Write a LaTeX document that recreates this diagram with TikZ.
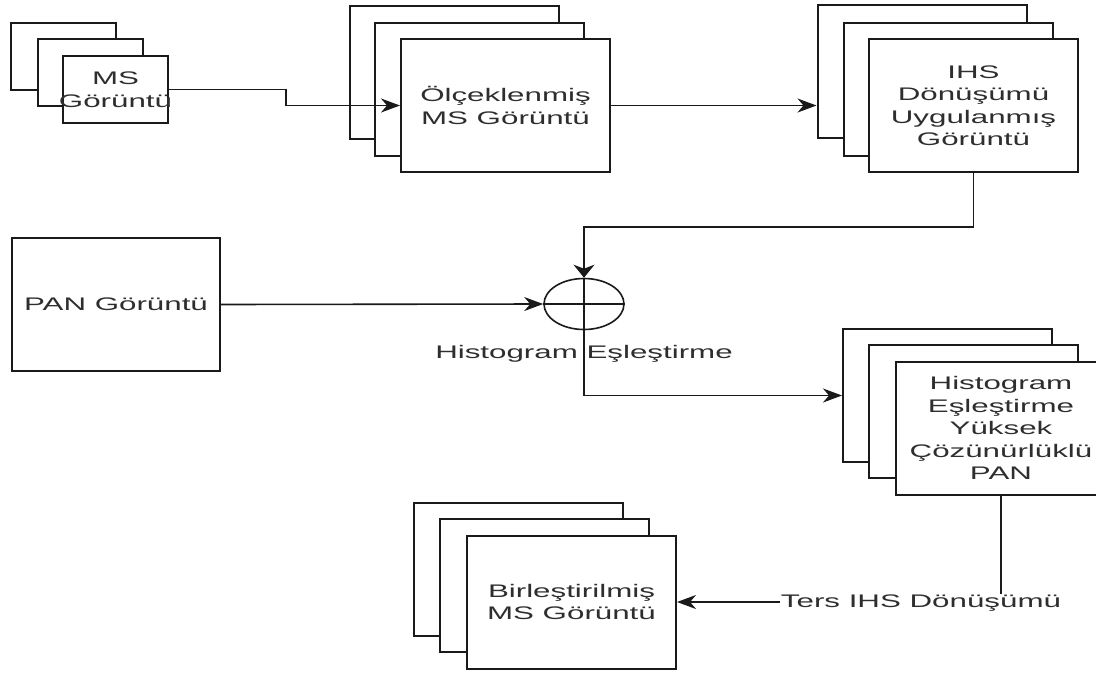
\documentclass[tikz,border=0pt]{standalone}
\usepackage{fontspec}
\setmainfont{Liberation Sans}[FakeStretch=1.72]
\usetikzlibrary{arrows.meta,shapes.geometric}
\definecolor{ink}{HTML}{1A1A1A}
\definecolor{txtc}{HTML}{2E2E2E}
\tikzset{
  card/.style={draw=ink, line width=2pt, fill=white, rectangle, inner sep=0pt},
  small/.style={card, minimum width=105pt, minimum height=67pt},
  big/.style={card, minimum width=209pt, minimum height=133pt},
  txt/.style={text=txtc, align=center, inner sep=0pt,
    font=\fontsize{18.2pt}{22.5pt}\selectfont},
  conn/.style={draw=ink, line width=1.6pt},
  harrow/.style={conn, -{Stealth[length=19pt,width=14pt,inset=6pt]}},
  varrow/.style={conn, -{Stealth[length=13pt,width=21pt,inset=4pt]}},
}
\begin{document}
\begin{tikzpicture}[x=1pt,y=-1pt]
\clip (0,0) rectangle (1096,675);
\fill[white] (0,0) rectangle (1096,675);

% MS image stack
\node[small] (msA) at (63.5,56) {};
\node[small] (msB) at (90,72.5) {};
\node[small] (ms)  at (115.5,89.5) {};
\node[txt] (msT) at (ms) {MS\\Görüntü};

% scaled MS image stack
\node[big] (olcA) at (454,72) {};
\node[big] (olcB) at (479.5,89) {};
\node[big] (olc)  at (505.5,105.5) {};
\node[txt] (olcT) at (olc) {Ölçeklenmiş\\MS Görüntü};

% IHS transformed stack
\node[big] (ihsA) at (922,71.5) {};
\node[big] (ihsB) at (948,89) {};
\node[big] (ihs)  at (973.5,105.5) {};
\node[txt] (ihsT) at (ihs) {IHS\\Dönüşümü\\Uygulanmış\\Görüntü};

% PAN image
\node[card, minimum width=208pt, minimum height=133pt] (pan) at (116,304.5) {};
\node[txt] (panT) at (pan) {PAN Görüntü};

% histogram matching junction
\node[draw=ink, line width=1.6pt, ellipse, minimum width=80pt, minimum height=51pt, inner sep=0pt] (sum) at (584,304) {};
\draw[conn] (sum.west) -- (sum.east);
\draw[conn] (sum.north) -- (sum.south);

% histogram matched PAN stack
\node[big] (hpA) at (947.5,395.5) {};
\node[big] (hpB) at (973.5,411.5) {};
\node[big, minimum width=210pt] (hp) at (1001,428) {};
\node[txt] (hpT) at (hp) {Histogram\\Eşleştirme\\Yüksek\\Çözünürlüklü\\PAN};

% fused MS stack
\node[big] (birA) at (518.5,569) {};
\node[big] (birB) at (544,585.5) {};
\node[big] (bir)  at (571.5,602) {};
\node[txt] (birT) at (bir) {Birleştirilmiş\\MS Görüntü};

% connectors
\draw[harrow] (ms.east) -- ++(117,0) |- (olc.west);
\draw[harrow] (olc.east) -- (olc.east -| ihsA.west);
\draw[varrow] (ihs.south) -- ++(0,54) -| (sum.north);
\draw[harrow] (pan.east) -- (sum.west);
\draw[harrow] (sum.south) |- (hpA.west);
\node[txt] (hmL) at (584,354) {Histogram Eşleştirme};
\draw[harrow] (hp.south) |- (bir.east);
\node[txt, fill=white, inner sep=1pt] (tihL) at (921,603) {Ters IHS Dönüşümü};
\end{tikzpicture}
\end{document}
